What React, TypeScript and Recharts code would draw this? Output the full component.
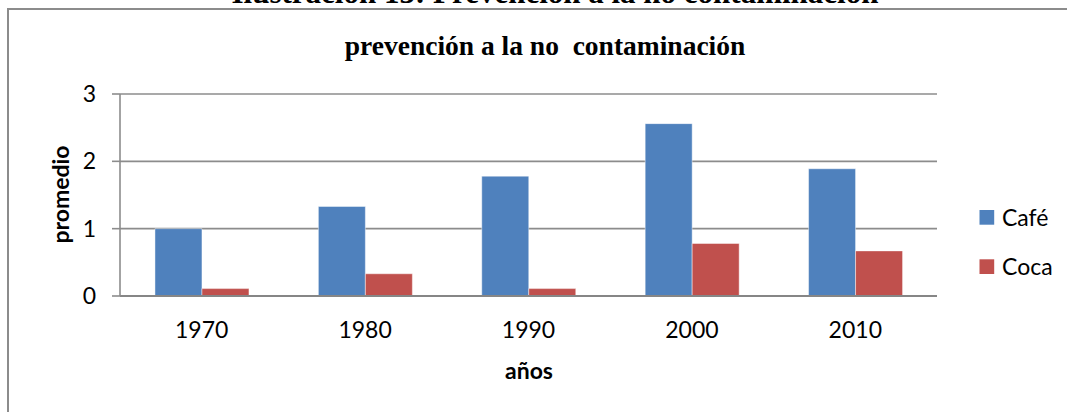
import React from 'react';
import { BarChart, Bar, XAxis, YAxis, CartesianGrid } from 'recharts';

const years = ['1970', '1980', '1990', '2000', '2010'];
const cafe = [1.0, 1.33, 1.78, 2.56, 1.89];
const coca = [0.11, 0.33, 0.11, 0.78, 0.67];
const yTicks = [0, 1, 2, 3];
const seriesNames = ['Café', 'Coca'];
const seriesColors = ['#4F81BD', '#C0504D'];

const data = years.map((y, i) => ({ year: y, cafe: cafe[i], coca: coca[i] }));

const SANS = 'Lato, "Open Sans", sans-serif';
const SERIF = '"Liberation Serif", "Times New Roman", serif';
const GRID = '#8c8c8c';

export default function App() {
  return (
    <>
      <style>{'html, body { margin: 0; padding: 0; overflow: hidden; background: #fff; }'}</style>
      <div
        style={{
          position: 'fixed',
          left: 0,
          top: 0,
          width: 1067,
          height: 412,
          overflow: 'hidden',
          background: '#fff',
        }}
      >
        <div style={{ position: 'absolute', left: 0, top: 0 }}>
          <BarChart
            width={1067}
            height={412}
            data={data}
            margin={{ top: 94, right: 130, bottom: 66, left: 0 }}
            barCategoryGap="21.4%"
            barGap={0}
          >
            <CartesianGrid vertical={false} stroke={GRID} strokeWidth={1.6} />
            <XAxis
              dataKey="year"
              height={50}
              tickLine={false}
              tickSize={0}
              tickMargin={26}
              axisLine={{ stroke: '#868686', strokeWidth: 2 }}
              tick={{ fill: '#000', fontSize: 23, fontFamily: SANS }}
            />
            <YAxis
              width={120}
              domain={[0, 3]}
              ticks={yTicks}
              tickSize={8}
              tickMargin={16}
              axisLine={{ stroke: GRID, strokeWidth: 1.6 }}
              tickLine={{ stroke: GRID, strokeWidth: 1.6 }}
              tick={{ fill: '#000', fontSize: 23, fontFamily: SANS }}
            />
            <Bar
              dataKey="cafe"
              name={seriesNames[0]}
              fill={seriesColors[0]}
              stroke="rgba(255,255,255,0.45)"
              strokeWidth={1}
              isAnimationActive={false}
            />
            <Bar
              dataKey="coca"
              name={seriesNames[1]}
              fill={seriesColors[1]}
              stroke="rgba(255,255,255,0.45)"
              strokeWidth={1}
              isAnimationActive={false}
            />
          </BarChart>
        </div>
        <svg
          width={1067}
          height={412}
          style={{ position: 'absolute', left: 0, top: 0, pointerEvents: 'none' }}
        >
          <text
            x={555}
            y={3}
            textAnchor="middle"
            fontFamily={SERIF}
            fontWeight="bold"
            fontSize={31}
            fill="#000"
          >
            Ilustración 13: Prevención a la no contaminación
          </text>
          <path d="M8,420 L8,9 L1067,9" fill="none" stroke={GRID} strokeWidth={2} />
          <text
            x={545}
            y={54.5}
            textAnchor="middle"
            fontFamily={SERIF}
            fontWeight="bold"
            fontSize={27.5}
            fill="#000"
            style={{ whiteSpace: 'pre' }}
          >
            {'prevención a la no  contaminación'}
          </text>
          <text
            transform="translate(69,194.5) rotate(-90)"
            textAnchor="middle"
            fontFamily={SANS}
            fontWeight="bold"
            fontSize={23}
            fill="#000"
          >
            promedio
          </text>
          <text
            x={529}
            y={379}
            textAnchor="middle"
            fontFamily={SANS}
            fontWeight="bold"
            fontSize={23}
            fill="#000"
          >
            años
          </text>
          {seriesNames.map((n, i) => (
            <g key={n}>
              <rect x={979.5} y={210 + i * 49.3} width={14.7} height={14.7} fill={seriesColors[i]} />
              <text
                x={1002}
                y={210 + i * 49.3 + 15.5}
                fontFamily={SANS}
                fontSize={23}
                fill="#000"
              >
                {n}
              </text>
            </g>
          ))}
        </svg>
      </div>
    </>
  );
}
